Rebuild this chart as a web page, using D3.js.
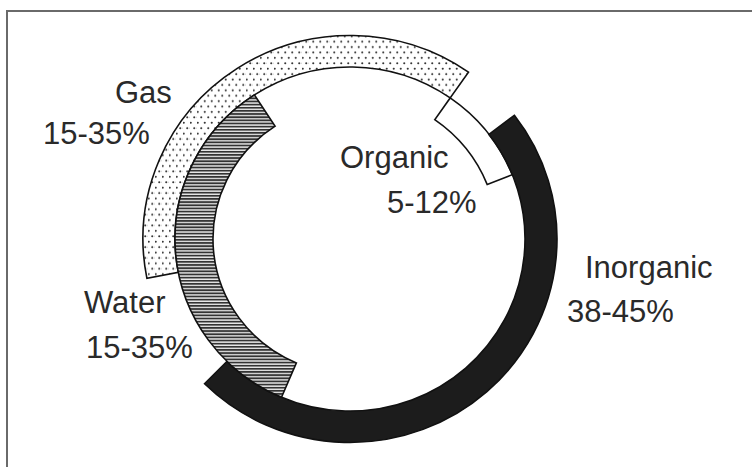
<!DOCTYPE html>
<html>
<head>
<meta charset="utf-8">
<script src="https://cdn.jsdelivr.net/npm/d3@7"></script>
<style>
  body { margin: 0; background: #fff; }
  svg { display: block; }
  text { font-family: "Liberation Sans", Arial, Helvetica, sans-serif; fill: #2a2a2a; }
</style>
</head>
<body>
<svg width="752" height="467"></svg>
<script>
const w = 752;
const h = 467;

// arcs, in percent of a full turn, clockwise from 12 o'clock
var categories = ["Gas", "Organic", "Inorganic", "Water"];
var ranges = ["15-35%", "5-12%", "38-45%", "15-35%"];
var arcStart = [-28.1, 9.7, 14.6, -43.6];
var arcEnd = [9.7, 18.9, 62.4, -9.2];
var ring = ["outer", "middle", "outer", "inner"];

var svg = d3.select('svg');

// frame (right and bottom edges fall outside the picture)
svg.append('rect')
  .attr('x', 7).attr('y', 11)
  .attr('width', 800).attr('height', 500)
  .attr('fill', 'none')
  .attr('stroke', '#6a6a6a')
  .attr('stroke-width', 2);

var defs = svg.append('defs');

// dotted fill for gas
var dots = defs.append('pattern')
  .attr('id', 'dots')
  .attr('patternUnits', 'userSpaceOnUse')
  .attr('width', 7).attr('height', 11);
dots.append('rect').attr('width', 7).attr('height', 11).attr('fill', '#fff');
dots.append('circle').attr('cx', 1.75).attr('cy', 2.75).attr('r', 1.05).attr('fill', '#333');
dots.append('circle').attr('cx', 5.25).attr('cy', 8.25).attr('r', 1.05).attr('fill', '#333');

// horizontal hatching for water
var hatch = defs.append('pattern')
  .attr('id', 'hatch')
  .attr('patternUnits', 'userSpaceOnUse')
  .attr('width', 6).attr('height', 3.2);
hatch.append('rect').attr('width', 6).attr('height', 3.2).attr('fill', '#e8e8e8');
hatch.append('rect').attr('width', 6).attr('height', 1.8).attr('fill', '#333');

var fills = {Gas: 'url(#dots)', Organic: '#fff', Inorganic: '#1c1c1c', Water: 'url(#hatch)'};
var radii = {outer: [175, 207], middle: [148, 175], inner: [137, 175]};

var angle = d3.scaleLinear().domain([0, 100]).range([0, 2 * Math.PI]);

var arc = d3.arc()
  .innerRadius(d => radii[d.ring][0])
  .outerRadius(d => radii[d.ring][1])
  .startAngle(d => angle(d.start))
  .endAngle(d => angle(d.end));

var slices = categories.map((c, i) => ({
  name: c, range: ranges[i], start: arcStart[i], end: arcEnd[i], ring: ring[i]
}));

var g = svg.append('g')
  .attr('transform', 'translate(350,239) scale(1,0.983)');

g.selectAll('path').data(slices).enter()
  .append('path')
  .attr('d', arc)
  .attr('fill', d => fills[d.name])
  .attr('stroke', '#111')
  .attr('stroke-width', 1.6)
  .attr('stroke-linejoin', 'miter');

// labels
var labelPos = {
  Gas: [[115, 103], [43, 144]],
  Organic: [[340, 168], [387, 213]],
  Inorganic: [[585, 278], [567, 322]],
  Water: [[84, 313], [86, 358]]
};

slices.forEach(d => {
  var p = labelPos[d.name];
  svg.append('text').attr('x', p[0][0]).attr('y', p[0][1])
    .style('font-size', '31px').text(d.name);
  svg.append('text').attr('x', p[1][0]).attr('y', p[1][1])
    .style('font-size', '31px').text(d.range);
});
</script>
</body>
</html>
